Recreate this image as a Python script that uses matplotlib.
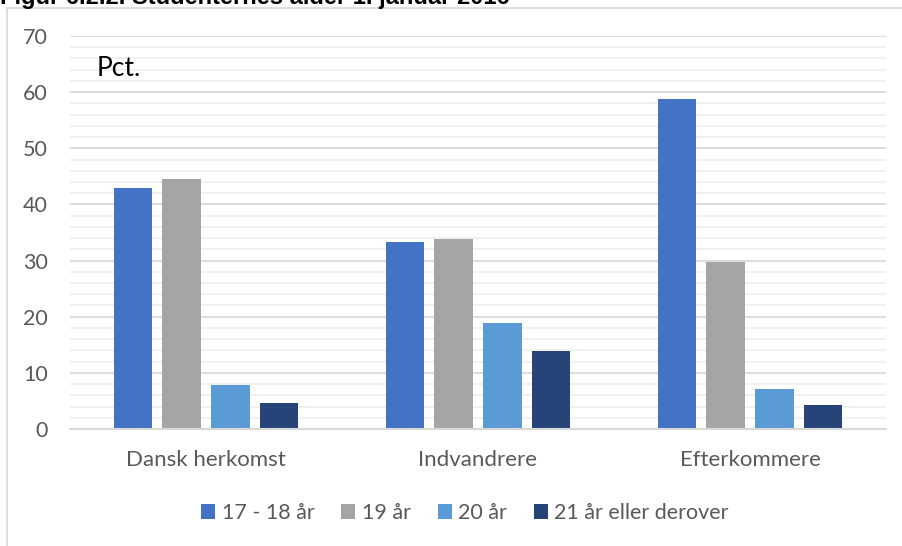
import numpy as np
import matplotlib.pyplot as plt
from matplotlib.ticker import MultipleLocator

# Data
categories = ['Dansk herkomst', 'Indvandrere', 'Efterkommere']
age_groups = ['17 - 18 år', '19 år', '20 år', '21 år eller derover']
v_17_18 = [42.9, 33.3, 58.8]
v_19 = [44.5, 33.8, 29.7]
v_20 = [7.8, 18.9, 7.2]
v_21 = [4.6, 13.9, 4.3]
colors = ['#4472C4', '#A5A5A5', '#5B9BD5', '#264478']

plt.rcParams['font.family'] = ['Lato', 'DejaVu Sans']

fig = plt.figure(figsize=(9.02, 5.46), dpi=100)
ax = fig.add_axes([70/902, 1-429/546, 816/902, 393/546])

x = np.arange(len(categories))
step = 0.18
width = 0.14
series = [v_17_18, v_19, v_20, v_21]
for i, vals in enumerate(series):
    ax.bar(x + (i - 1.5)*step, vals, width, color=colors[i], label=age_groups[i], zorder=3)

ax.set_xlim(-0.5, 2.5)
ax.set_ylim(0, 70)
ax.yaxis.set_major_locator(MultipleLocator(10))
ax.yaxis.set_minor_locator(MultipleLocator(2))
ax.grid(axis='y', which='major', color='#d9d9d9', lw=1.3, zorder=1)
ax.grid(axis='y', which='minor', color='#f0f0f0', lw=1.3, zorder=0)
for s in ['top', 'right', 'left']:
    ax.spines[s].set_visible(False)
ax.spines['bottom'].set_color('#d9d9d9')
ax.spines['bottom'].set_linewidth(1.5)
ax.spines['bottom'].set_zorder(4)

ax.set_xticks(x)
ax.set_xticklabels(categories)
ax.tick_params(axis='x', length=0, pad=15, labelsize=16, labelcolor='#595959')
ax.tick_params(axis='y', which='both', length=0, pad=16, labelsize=15.5, labelcolor='#595959')

ax.text(97/902, 1-69/546, 'Pct.', transform=fig.transFigure, fontsize=19,
        color='black', va='center', ha='left')

ax.legend(loc='center', bbox_to_anchor=(465/902, 1-513/546), bbox_transform=fig.transFigure,
          ncol=4, frameon=False, fontsize=15.5, labelcolor='#595959',
          handlelength=0.65, handleheight=0.65, handletextpad=0.3, columnspacing=1.25)

# chart frame and clipped title above it
fig.add_artist(plt.Line2D([6.5/902, 6.5/902], [0, 1-8/546], transform=fig.transFigure,
                          color='#d9d9d9', lw=1.2))
fig.add_artist(plt.Line2D([6/902, 1], [1-8/546, 1-8/546], transform=fig.transFigure,
                          color='#d9d9d9', lw=1.2))
fig.text(0, 1-4/546, 'Figur 6.2.2. Studenternes alder 1. januar 2016', family='Liberation Sans',
         fontsize=17, fontweight='bold', va='baseline', ha='left')

fig.savefig('out.png', dpi=100)
